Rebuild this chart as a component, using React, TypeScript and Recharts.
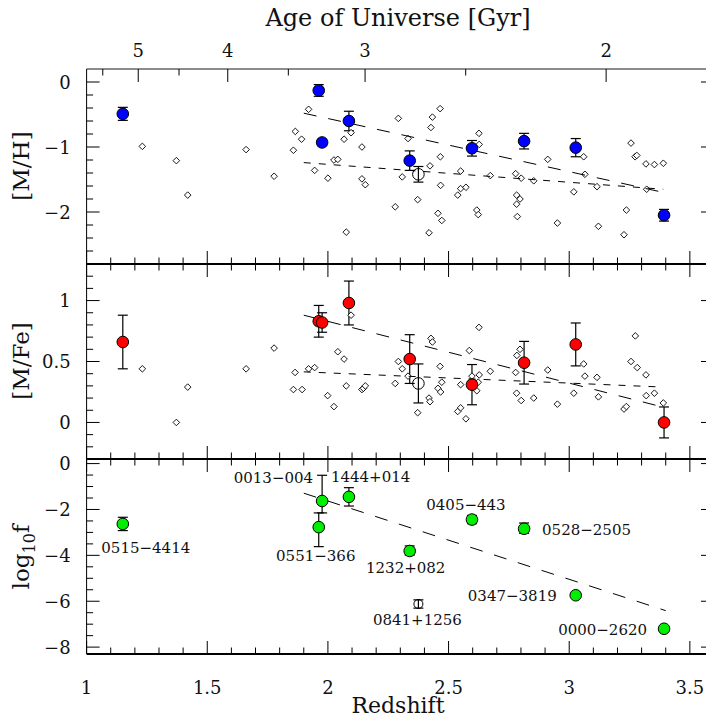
import React from "react";
import { ErrorBar, Scatter, ScatterChart, XAxis, YAxis } from "recharts";

const FONT = '"DejaVu Serif", serif';
const INK = "#000";

// the ten absorbers, sorted by redshift
const OBJECTS = [
  "0515−4414",
  "0551−366",
  "0013−004",
  "1444+014",
  "1232+082",
  "0841+1256",
  "0405−443",
  "0528−2505",
  "0347−3819",
  "0000−2620",
];
const OBJ_Z = [1.15, 1.962, 1.976, 2.087, 2.339, 2.375, 2.597, 2.813, 3.027, 3.393];
const OPEN_OBJECT = "0841+1256";

const MH = [-0.49, -0.13, -0.93, -0.6, -1.21, -1.42, -1.02, -0.91, -1.01, -2.05];
const MH_ERR = [0.1, 0.09, 0.05, 0.15, 0.15, 0.12, 0.12, 0.12, 0.14, 0.09];

const MFE = [0.66, 0.83, 0.82, 0.98, 0.52, 0.32, 0.31, 0.49, 0.64, 0.0];
const MFE_ERR = [0.22, 0.13, 0.08, 0.18, 0.2, 0.16, 0.165, 0.175, 0.176, 0.127];

const LOGF = [-2.63, -2.77, -1.63, -1.45, -3.81, -6.12, -2.44, -2.84, -5.74, -7.2];
const LOGF_ERR_LO = [0.29, 0.85, 0.52, 0.4, 0.18, 0.18, 0.18, 0.2, 0, 0];
const LOGF_ERR_HI = [0.29, 0.62, 1.12, 0.4, 0.22, 0.18, 0.18, 0.25, 0, 0];

// comparison sample (small diamonds)
const MH_FIELD_Z = [
  1.231, 1.372, 1.419, 1.661, 1.777, 1.857, 1.865, 1.891, 1.92, 1.945, 2.0, 2.025, 2.041,
  2.067, 2.076, 2.096, 2.141, 2.141, 2.155, 2.279, 2.292, 2.308, 2.332, 2.372, 2.419, 2.423,
  2.427, 2.433, 2.456, 2.465, 2.466, 2.467, 2.472, 2.538, 2.55, 2.55, 2.572, 2.617, 2.623,
  2.626, 2.627, 2.673, 2.778, 2.782, 2.782, 2.785, 2.796, 2.801, 2.853, 2.911, 2.951, 3.019,
  3.06, 3.065, 3.115, 3.121, 3.227, 3.237, 3.256, 3.273, 3.28, 3.318, 3.321, 3.353, 3.39,
];
const MH_FIELD = [
  -0.99, -1.21, -1.74, -1.04, -1.45, -1.05, -0.76, -0.88, -0.42, -1.36, -1.48, -1.2, -1.19,
  -0.88, -2.31, -0.78, -1.0, -1.49, -1.58, -1.92, -0.56, -1.46, -0.87, -1.81, -2.32, -1.29,
  -0.7, -0.54, -2.02, -0.41, -1.15, -1.59, -2.13, -1.74, -1.64, -1.37, -1.62, -1.97, -2.04,
  -0.79, -0.96, -1.44, -1.41, -1.74, -1.88, -2.07, -1.8, -1.48, -1.52, -1.19, -2.17, -1.69,
  -1.15, -1.42, -1.61, -2.22, -2.35, -1.97, -0.94, -1.15, -1.13, -1.26, -1.65, -1.27, -1.25,
];

const MFE_FIELD_Z = [
  1.231, 1.372, 1.419, 1.661, 1.777, 1.857, 1.864, 1.893, 1.92, 1.945, 1.999, 2.025, 2.041,
  2.067, 2.076, 2.096, 2.141, 2.147, 2.155, 2.279, 2.292, 2.308, 2.332, 2.372, 2.419, 2.423,
  2.427, 2.433, 2.456, 2.465, 2.467, 2.472, 2.538, 2.55, 2.55, 2.572, 2.586, 2.597, 2.617,
  2.623, 2.626, 2.627, 2.673, 2.778, 2.782, 2.783, 2.796, 2.801, 2.853, 2.911, 2.951, 3.019,
  3.06, 3.065, 3.115, 3.121, 3.227, 3.237, 3.256, 3.274, 3.282, 3.318, 3.319, 3.353, 3.39,
];
const MFE_FIELD = [
  0.44, 0.0, 0.29, 0.44, 0.61, 0.27, 0.41, 0.27, 0.44, 0.45, 0.22, 0.13, 0.58, 0.52, 0.3,
  0.88, 0.27, 0.28, 0.3, 0.32, 0.5, 0.44, 0.38, 0.08, 0.2, 0.17, 0.69, 0.66, 0.28, 0.46,
  0.25, 0.33, 0.09, 0.12, 0.31, 0.03, 0.59, 0.38, 0.26, 0.33, 0.78, 0.39, 0.42, 0.41, 0.24,
  0.55, 0.6, 0.18, 0.2, 0.43, 0.15, 0.24, 0.48, 0.38, 0.37, 0.21, 0.11, 0.13, 0.5, 0.71,
  0.45, 0.39, 0.22, 0.24, 0.16,
];

// fitted trends (end points)
const MH_FIT_LONG_Z = [1.9, 3.38];
const MH_FIT_LONG = [-0.48, -1.69];
const MH_FIT_SHORT_Z = [1.9, 3.39];
const MH_FIT_SHORT = [-1.24, -1.65];
const MFE_FIT_LONG_Z = [1.9, 3.4];
const MFE_FIT_LONG = [0.88, 0.12];
const MFE_FIT_SHORT_Z = [1.9, 3.39];
const MFE_FIT_SHORT = [0.415, 0.29];
const LOGF_FIT_Z = [1.9, 3.4];
const LOGF_FIT = [-1.29, -6.41];

// axes
const Z_DOMAIN: [number, number] = [1, 3.6];
const X_TICKS = [
  1, 1.1, 1.2, 1.3, 1.4, 1.5, 1.6, 1.7, 1.8, 1.9, 2, 2.1, 2.2, 2.3, 2.4, 2.5, 2.6, 2.7, 2.8,
  2.9, 3, 3.1, 3.2, 3.3, 3.4, 3.5,
];
const AGE_TICK_Z = [1.067, 1.214, 1.383, 1.585, 1.836, 2.154, 2.571, 3.153];
const AGE_TICK_GYR = [5.5, 5, 4.5, 4, 3.5, 3, 2.5, 2];
const MH_TICKS = [0, -0.2, -0.4, -0.6, -0.8, -1, -1.2, -1.4, -1.6, -1.8, -2, -2.2, -2.4, -2.6];
const MFE_TICKS = [-0.2, -0.1, 0, 0.1, 0.2, 0.3, 0.4, 0.5, 0.6, 0.7, 0.8, 0.9, 1, 1.1, 1.2];
const LOGF_TICKS = [
  0, -0.5, -1, -1.5, -2, -2.5, -3, -3.5, -4, -4.5, -5, -5.5, -6, -6.5, -7, -7.5, -8,
];

// where each bottom-panel name sits relative to its point
const NAME_POS: Record<string, [number, number, "start" | "middle" | "end"]> = {
  "0515−4414": [23, 29, "middle"],
  "0551−366": [-3, 34, "middle"],
  "0013−004": [-9, -18, "end"],
  "1444+014": [-18, -15, "start"],
  "1232+082": [-4, 22, "middle"],
  "0841+1256": [-1, 21, "middle"],
  "0405−443": [-6, -10, "middle"],
  "0528−2505": [18, 6, "start"],
  "0347−3819": [-19, 6, "end"],
  "0000−2620": [-17, 6, "end"],
};

type Row = { z: number; v: number; name?: string; err?: [number, number] };

const series = (zs: number[], vs: number[]): Row[] => zs.map((z, i) => ({ z, v: vs[i] }));
const objectRows = (vs: number[], lo: number[], hi: number[]): Row[] =>
  OBJ_Z.map((z, i) => ({ z, v: vs[i], name: OBJECTS[i], err: [lo[i], hi[i]] }));

const isStep = (v: number, step: number) => Math.abs(v / step - Math.round(v / step)) < 1e-6;
const fmt = (v: number) => (v < 0 ? "\u2212" + String(Math.abs(v)) : String(v));

const textStyle = { fontFamily: FONT, fill: "#111" };

function redshiftTick(side: "top" | "bottom", showLabel: boolean) {
  return (p: any) => {
    const v = p.payload.value;
    const major = isStep(v, 0.5);
    const len = major ? 13 : 6.5;
    const dir = side === "bottom" ? -1 : 1;
    return (
      <g>
        <line x1={p.x} x2={p.x} y1={p.y} y2={p.y + dir * len} stroke={INK} strokeWidth={1} />
        {showLabel && major ? (
          <text x={p.x} y={p.y + 40} textAnchor="middle" fontSize={18} {...textStyle}>
            {String(v)}
          </text>
        ) : null}
      </g>
    );
  };
}

const ageTick = (p: any) => {
  const i = AGE_TICK_Z.findIndex((z) => Math.abs(z - p.payload.value) < 1e-6);
  const gyr = AGE_TICK_GYR[i];
  const major = Number.isInteger(gyr);
  return (
    <g>
      <line x1={p.x} x2={p.x} y1={p.y} y2={p.y + (major ? 13 : 6.5)} stroke={INK} strokeWidth={1} />
      {major ? (
        <text x={p.x} y={p.y - 12} textAnchor="middle" fontSize={18} {...textStyle}>
          {String(gyr)}
        </text>
      ) : null}
    </g>
  );
};

function valueTick(side: "left" | "right", majorStep: number) {
  return (p: any) => {
    const v = p.payload.value;
    const major = isStep(v, majorStep);
    const len = major ? 13 : 6.5;
    const dir = side === "left" ? 1 : -1;
    return (
      <g>
        <line x1={p.x} x2={p.x + dir * len} y1={p.y} y2={p.y} stroke={INK} strokeWidth={1} />
        {side === "left" && major ? (
          <text x={p.x - 16} y={p.y + 6.5} textAnchor="end" fontSize={18} {...textStyle}>
            {fmt(v)}
          </text>
        ) : null}
      </g>
    );
  };
}

// axis titles: own coordinate props so recharts' injected x/y are ignored
function SideTitle({ mid, children }: { mid: number; children: React.ReactNode }) {
  return (
    <text
      x={29}
      y={mid}
      transform={`rotate(-90, 29, ${mid})`}
      textAnchor="middle"
      fontSize={23}
      {...textStyle}
    >
      {children}
    </text>
  );
}

function PlainTitle({
  tx,
  ty,
  size,
  children,
}: {
  tx: number;
  ty: number;
  size: number;
  children: React.ReactNode;
}) {
  return (
    <text x={tx} y={ty} textAnchor="middle" fontSize={size} {...textStyle}>
      {children}
    </text>
  );
}

const diamond = (p: any) => {
  if (p.cx == null) return <g />;
  const s = 3.3;
  const { cx, cy } = p;
  return (
    <polygon
      points={`${cx},${cy - s} ${cx + s},${cy} ${cx},${cy + s} ${cx - s},${cy}`}
      fill="#fff"
      stroke={INK}
      strokeWidth={0.9}
    />
  );
};

const noMark = () => <g />;

function bigPoint(color: string, named: boolean) {
  return (p: any) => {
    if (p.cx == null) return <g />;
    const name = p.payload?.name as string;
    const open = name === OPEN_OBJECT;
    const pos = NAME_POS[name];
    return (
      <g>
        <circle
          cx={p.cx}
          cy={p.cy}
          r={open && named ? 4.5 : 5.8}
          fill={open ? "none" : color}
          stroke={INK}
          strokeWidth={1}
        />
        {named && pos ? (
          <text x={p.cx + pos[0]} y={p.cy + pos[1]} textAnchor={pos[2]} fontSize={15} {...textStyle}>
            {name}
          </text>
        ) : null}
      </g>
    );
  };
}

type PanelProps = {
  top: number;
  height: number;
  marginTop: number;
  marginBottom: number;
  yDomain: [number, number];
  yTicks: number[];
  yMajor: number;
  yTitle: React.ReactNode;
  ageAxis?: boolean;
  bottomLabels?: boolean;
  children: React.ReactNode;
};

function Panel(props: PanelProps) {
  const { top, height, marginTop, marginBottom, yDomain, yTicks, yMajor } = props;
  return (
    <div style={{ position: "absolute", left: 0, top }}>
      <ScatterChart
        width={716}
        height={height}
        margin={{ top: marginTop, right: 1, bottom: marginBottom, left: 26.6 }}
      >
        <XAxis
          xAxisId="z"
          dataKey="z"
          type="number"
          domain={Z_DOMAIN}
          allowDataOverflow
          ticks={X_TICKS}
          interval={0}
          height={1}
          tickSize={0}
          tickMargin={0}
          tickLine={false}
          axisLine={{ stroke: INK, strokeWidth: 2 }}
          tick={redshiftTick("bottom", !!props.bottomLabels)}
          label={
            props.bottomLabels ? (
              <PlainTitle tx={398} ty={height - 6} size={22}>
                Redshift
              </PlainTitle>
            ) : undefined
          }
        />
        <XAxis
          xAxisId="top"
          orientation="top"
          dataKey="z"
          type="number"
          domain={Z_DOMAIN}
          allowDataOverflow
          ticks={props.ageAxis ? AGE_TICK_Z : X_TICKS}
          interval={0}
          height={1}
          tickSize={0}
          tickMargin={0}
          tickLine={false}
          axisLine={props.ageAxis ? { stroke: "#666", strokeWidth: 1.5 } : { stroke: INK, strokeWidth: 2 }}
          tick={props.ageAxis ? ageTick : redshiftTick("top", false)}
          label={
            props.ageAxis ? (
              <PlainTitle tx={398} ty={26} size={24}>
                Age of Universe [Gyr]
              </PlainTitle>
            ) : undefined
          }
        />
        <YAxis
          yAxisId="v"
          dataKey="v"
          type="number"
          domain={yDomain}
          allowDataOverflow
          ticks={yTicks}
          interval={0}
          width={60}
          tickSize={0}
          tickMargin={0}
          tickLine={false}
          axisLine={{ stroke: INK, strokeWidth: 1 }}
          tick={valueTick("left", yMajor)}
          label={props.yTitle as any}
        />
        <YAxis
          yAxisId="right"
          orientation="right"
          type="number"
          domain={yDomain}
          allowDataOverflow
          ticks={yTicks}
          interval={0}
          width={1}
          tickSize={0}
          tickMargin={0}
          tickLine={false}
          axisLine={{ stroke: INK, strokeWidth: 1 }}
          tick={valueTick("right", yMajor)}
        />
        {props.children}
      </ScatterChart>
    </div>
  );
}

const LONG_DASH = { stroke: INK, strokeWidth: 1, strokeDasharray: "13 12" };
const SHORT_DASH = { stroke: INK, strokeWidth: 1, strokeDasharray: "7 8" };

export default function App() {
  return (
    <div
      style={{
        position: "absolute",
        left: 0,
        top: 0,
        width: 706,
        height: 719,
        overflow: "hidden",
        background: "#fff",
      }}
    >
      <style>{".recharts-surface{overflow:visible}"}</style>
      <Panel
        top={0}
        height={265}
        marginTop={68}
        marginBottom={0}
        yDomain={[-2.8, 0.2]}
        yTicks={MH_TICKS}
        yMajor={1}
        ageAxis
        yTitle={<SideTitle mid={166}>[M/H]</SideTitle>}
      >
        <Scatter xAxisId="z" yAxisId="v" data={series(MH_FIELD_Z, MH_FIELD)} shape={diamond} isAnimationActive={false} />
        <Scatter xAxisId="z" yAxisId="v" data={series(MH_FIT_LONG_Z, MH_FIT_LONG)} line={LONG_DASH} shape={noMark} isAnimationActive={false} />
        <Scatter xAxisId="z" yAxisId="v" data={series(MH_FIT_SHORT_Z, MH_FIT_SHORT)} line={SHORT_DASH} shape={noMark} isAnimationActive={false} />
        <Scatter xAxisId="z" yAxisId="v" data={objectRows(MH, MH_ERR, MH_ERR)} shape={bigPoint("#0000ff", false)} isAnimationActive={false}>
          <ErrorBar dataKey="err" direction="y" width={5} stroke={INK} strokeWidth={1.2} />
        </Scatter>
      </Panel>

      <Panel
        top={263}
        height={197}
        marginTop={0}
        marginBottom={0}
        yDomain={[-0.3, 1.3]}
        yTicks={MFE_TICKS}
        yMajor={0.5}
        yTitle={<SideTitle mid={98}>[M/Fe]</SideTitle>}
      >
        <Scatter xAxisId="z" yAxisId="v" data={series(MFE_FIELD_Z, MFE_FIELD)} shape={diamond} isAnimationActive={false} />
        <Scatter xAxisId="z" yAxisId="v" data={series(MFE_FIT_LONG_Z, MFE_FIT_LONG)} line={LONG_DASH} shape={noMark} isAnimationActive={false} />
        <Scatter xAxisId="z" yAxisId="v" data={series(MFE_FIT_SHORT_Z, MFE_FIT_SHORT)} line={SHORT_DASH} shape={noMark} isAnimationActive={false} />
        <Scatter xAxisId="z" yAxisId="v" data={objectRows(MFE, MFE_ERR, MFE_ERR)} shape={bigPoint("#ff0000", false)} isAnimationActive={false}>
          <ErrorBar dataKey="err" direction="y" width={5} stroke={INK} strokeWidth={1.2} />
        </Scatter>
      </Panel>

      <Panel
        top={458}
        height={261}
        marginTop={0}
        marginBottom={64}
        yDomain={[-8.3, 0.2]}
        yTicks={LOGF_TICKS}
        yMajor={2}
        bottomLabels
        yTitle={
          <SideTitle mid={99}>
            log<tspan fontSize={16} dy={6}>10</tspan>
            <tspan dy={-6}>f</tspan>
          </SideTitle>
        }
      >
        <Scatter xAxisId="z" yAxisId="v" data={series(LOGF_FIT_Z, LOGF_FIT)} line={LONG_DASH} shape={noMark} isAnimationActive={false} />
        <Scatter xAxisId="z" yAxisId="v" data={objectRows(LOGF, LOGF_ERR_LO, LOGF_ERR_HI)} shape={bigPoint("#00ee00", true)} isAnimationActive={false}>
          <ErrorBar dataKey="err" direction="y" width={5} stroke={INK} strokeWidth={1.2} />
        </Scatter>
      </Panel>
    </div>
  );
}
